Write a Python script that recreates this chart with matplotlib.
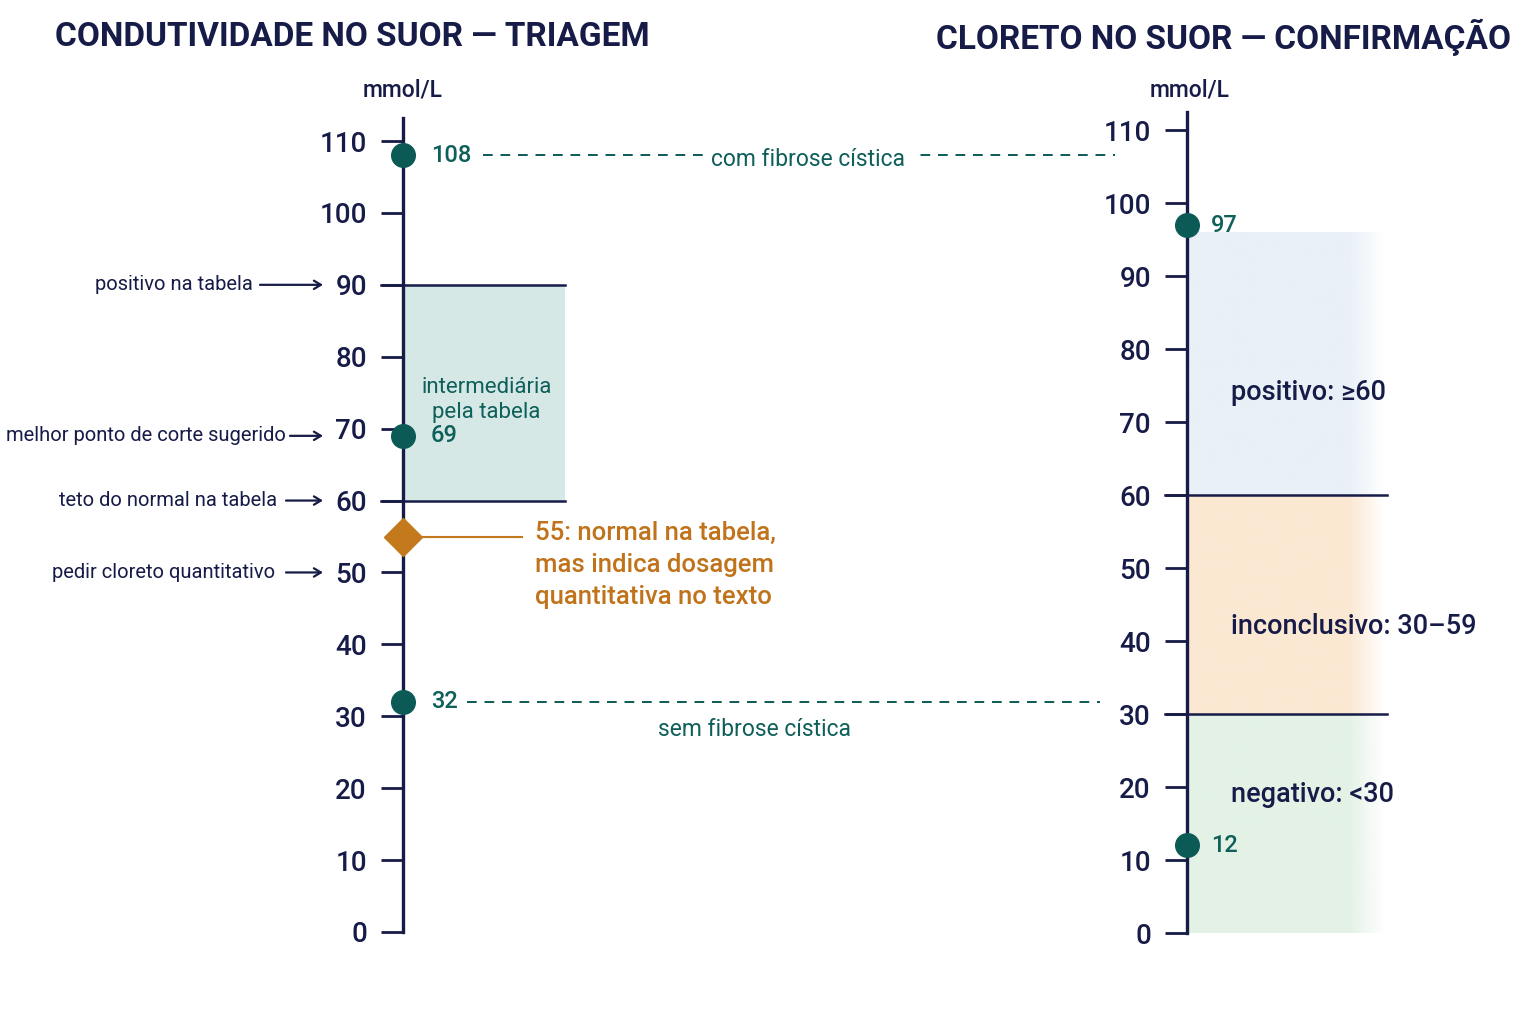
import numpy as np
import matplotlib.pyplot as plt
import matplotlib.transforms as mtransforms

plt.rcParams['font.family'] = ['Roboto', 'DejaVu Sans']

# cores
NAVY = '#161b47'
TEAL = '#0c5a56'
TEAL_TXT = '#0f5f5a'
ORANGE = '#c47a1c'
ORANGE_TXT = '#c0731b'

# ---- dados ----
ticks = list(range(0, 111, 10))

# triagem (condutividade)
left_patients = [108, 69, 32]
left_patient_labels = ['108', '69', '32']
left_band = (60, 90)
left_band_label = 'intermediária\npela tabela'
left_marks = ['positivo na tabela', 'melhor ponto de corte sugerido',
              'teto do normal na tabela', 'pedir cloreto quantitativo']
left_mark_values = [90, 69, 60, 50]
diamond_value = 55
diamond_label = '55: normal na tabela,\nmas indica dosagem\nquantitativa no texto'

# confirmação (cloreto)
right_patients = [97, 12]
right_patient_labels = ['97', '12']
band_labels = ['negativo: <30', 'inconclusivo: 30–59', 'positivo: ≥60']
band_low = [0, 30, 60]
band_high = [30, 60, 96]
band_colors = ['#e4f2e6', '#fbe8d2', '#e9f1f7']
band_text_y = [19, 42, 74]
band_lines = [30, 60]

# pacientes ligados
link_values = [108, 32]
link_labels = ['com fibrose cística', 'sem fibrose cística']

W, H = 1536, 1024
fig = plt.figure(figsize=(W / 100, H / 100), dpi=100)

# eixos posicionados em pixels
ax1 = fig.add_axes([403 / W, (H - 932) / H, (1187 - 403) / W, (932 - 118) / H])
ax2 = fig.add_axes([1187 / W, (H - 933) / H, (1400 - 1187) / W, (933 - 112) / H])
ax1.patch.set_alpha(0)
ax2.patch.set_alpha(0)

for ax, top in [(ax1, 113.2), (ax2, 112.5)]:
    for s in ['top', 'right', 'bottom']:
        ax.spines[s].set_visible(False)
    ax.spines['left'].set_color(NAVY)
    ax.spines['left'].set_linewidth(2.4)
    ax.set_xlim(0, 1)
    ax.set_ylim(0, top)
    ax.set_xticks([])
    ax.set_yticks(ticks)
    ax.tick_params(axis='y', length=16, width=2, color=NAVY, labelsize=20,
                   labelcolor=NAVY, pad=10)
    for lbl in ax.get_yticklabels():
        lbl.set_fontweight('medium')

# ---- painel esquerdo ----
band_w = (565 - 403) / 784
ax1.fill_between([0, band_w], left_band[0], left_band[1], color='#d5e8e6', zorder=0, lw=0)
for v in left_band:
    ax1.plot([-22 / 784, band_w], [v, v], color=NAVY, lw=1.8, clip_on=False, zorder=2)
ax1.text(band_w / 2 + 0.003, sum(left_band) / 2 - 1, left_band_label, color=TEAL_TXT,
         fontsize=16, ha='center', va='center', linespacing=1.25)

ax1.plot([0] * len(left_patients), left_patients, 'o', ms=17, color=TEAL,
         clip_on=False, zorder=5)
for v, t in zip(left_patients, left_patient_labels):
    ax1.text(28 / 784, v, t, color=TEAL_TXT, fontsize=17, ha='left', va='center',
             fontweight='medium')

# losango 55
ax1.plot([0, (522 - 403) / 784], [diamond_value, diamond_value], color=ORANGE, lw=1.5, zorder=3)
ax1.plot([0], [diamond_value], 'D', ms=19, color=ORANGE, clip_on=False, zorder=6)
ax1.annotate(diamond_label, xy=((535 - 403) / 784, diamond_value), xytext=(0, 11),
             textcoords='offset points', color=ORANGE_TXT, fontsize=18.5, ha='left',
             va='top', linespacing=1.42, fontweight='medium')

# rótulos à esquerda com setas
blend = mtransforms.blended_transform_factory(fig.transFigure, ax1.transData)
text_end = [253, 286, 277, 275]
arrow_start = [260, 290, 286, 286]
for t, v, te, a0 in zip(left_marks, left_mark_values, text_end, arrow_start):
    ax1.text(te / W, v, t, transform=blend, ha='right', va='center', fontsize=14.5,
             color=NAVY)
    ax1.annotate('', xy=(323 / W, v), xytext=(a0 / W, v), xycoords=blend,
                 textcoords=blend,
                 arrowprops=dict(arrowstyle='->,head_length=0.5,head_width=0.3',
                                 lw=1.6, color=NAVY, shrinkA=0, shrinkB=0))

# linhas tracejadas ligando os painéis
link_x0 = [(483 - 403) / 784, (467 - 403) / 784]
link_x1 = [(1115 - 403) / 784, (1100 - 403) / 784]
for v, t, x0, x1, i in zip(link_values, link_labels, link_x0, link_x1, range(2)):
    ax1.plot([x0, x1], [v, v], ls=(0, (5, 4)), color=TEAL, lw=1.4, clip_on=False)
    if i == 0:
        ax1.annotate(t, xy=((808 - 403) / 784, v), xytext=(0, -3),
                     textcoords='offset points', color=TEAL_TXT, fontsize=16.5,
                     ha='center', va='center',
                     bbox=dict(fc='white', ec='none', pad=6))
    else:
        ax1.annotate(t, xy=((755 - 403) / 784, v), xytext=(0, -20),
                     textcoords='offset points', color=TEAL_TXT, fontsize=16.5,
                     ha='center', va='center')

# ---- painel direito ----
band_right = (1385 - 1187) / 213
xs = np.linspace(0, 1, 200)
alpha = np.clip((1 - xs) / 0.18, 0, 1)
for lo, hi, c, t, ty in zip(band_low, band_high, band_colors, band_labels, band_text_y):
    rgb = np.array(plt.matplotlib.colors.to_rgb(c))
    img = np.ones((1, 200, 4))
    img[..., :3] = rgb
    img[..., 3] = alpha
    ax2.imshow(img, extent=(0, band_right, lo, hi), aspect='auto', zorder=0,
               interpolation='bilinear')
    ax2.text((1231 - 1187) / 213, ty, t, color=NAVY, fontsize=19.5, ha='left',
             va='center', fontweight='medium')
for v in band_lines:
    ax2.plot([-22 / 213, (1387 - 1187) / 213], [v, v], color=NAVY, lw=1.8,
             clip_on=False, zorder=2)
ax2.set_xlim(0, 1)
ax2.set_ylim(0, 112.5)

ax2.plot([0] * len(right_patients), right_patients, 'o', ms=17, color=TEAL,
         clip_on=False, zorder=5)
for v, t in zip(right_patients, right_patient_labels):
    ax2.text(24 / 213, v, t, color=TEAL_TXT, fontsize=17, ha='left', va='center',
             fontweight='medium')

# títulos
fig.text(352 / W, 1 - 37 / H, 'CONDUTIVIDADE NO SUOR — TRIAGEM', fontsize=24,
         fontweight='bold', color=NAVY, ha='center', va='center')
fig.text(1224 / W, 1 - 37 / H, 'CLORETO NO SUOR — CONFIRMAÇÃO', fontsize=24,
         fontweight='bold', color=NAVY, ha='center', va='center')
fig.text(403 / W, 1 - 90 / H, 'mmol/L', fontsize=16.5, color=NAVY, ha='center',
         va='center', fontweight='medium')
fig.text(1190 / W, 1 - 90 / H, 'mmol/L', fontsize=16.5, color=NAVY, ha='center',
         va='center', fontweight='medium')

fig.savefig('out.png', dpi=100, facecolor='white')
